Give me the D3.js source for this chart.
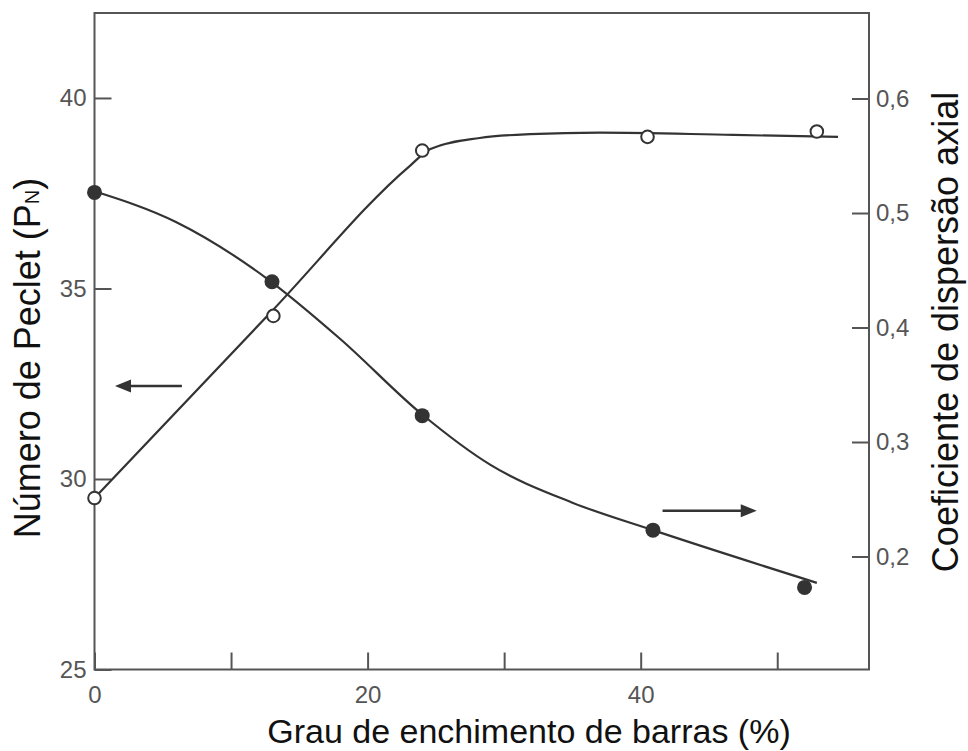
<!DOCTYPE html>
<html><head><meta charset="utf-8">
<script src="https://cdn.jsdelivr.net/npm/d3@7"></script>
<style>body{margin:0;background:#fff} svg{display:block}</style>
</head><body><svg id="c" width="968" height="751"></svg>
<script>
// ---- data ----
const xTicks = [0, 10, 20, 30, 40, 50];
const xTickLabels = ["0", "", "20", "", "40", ""];
const leftTicks = [25, 30, 35, 40];
const leftTickLabels = ["25", "30", "35", "40"];
const rightTicks = [0.2, 0.3, 0.4, 0.5, 0.6];
const rightTickLabels = ["0,2", "0,3", "0,4", "0,5", "0,6"];

// Número de Peclet (open circles, left axis)
const pecletX = [0, 13.1, 24.0, 40.5, 52.9];
const pecletY = [29.5, 34.28, 38.62, 38.98, 39.12];
// Coeficiente de dispersão axial (filled circles, right axis)
const dispX = [0, 13.0, 24.0, 40.9, 52.0];
const dispY = [0.518, 0.440, 0.323, 0.223, 0.173];

// fitted curves (traced)
const pecletFitX = [0, 13, 23.1, 24.6, 28.2, 31.9, 37.0, 46.8, 54.45];
const pecletFitY = [29.5, 34.41, 38.22, 38.66, 38.95, 39.05, 39.09, 39.03, 38.98];
const dispFitX = [0, 6, 12.6, 18, 24, 29, 35, 40.9, 52.9];
const dispFitY = [0.519, 0.492, 0.443, 0.390, 0.324, 0.280, 0.247, 0.223, 0.177];

// direction arrows
const arrowFromX = [6.4, 41.6];
const arrowToX = [1.5, 48.5];
const arrowY = [32.44, 0.240];
const arrowAxis = ["left", "right"];

const xTitle = "Grau de enchimento de barras (%)";
const leftTitle = "Número de Peclet (P";
const leftTitleSub = "N";
const rightTitle = "Coeficiente de dispersão axial";

// ---- drawing ----
const svg = d3.select("#c");
const font = "'Liberation Sans', Arial, Helvetica, sans-serif";
const L = 94.5, R = 869, T = 13, B = 669.5;
const x = d3.scaleLinear().domain([0, 56.72]).range([L, R]);
const yL = d3.scaleLinear().domain([25, 42.23]).range([B, T]);
const yR = d3.scaleLinear().domain([0.1013, 0.6747]).range([B, T]);
const axisCol = "#555", lineCol = "#333";

function styleAxis(g) {
  g.select(".domain").remove();
  g.selectAll(".tick line").attr("stroke", axisCol).attr("stroke-width", 2);
  g.selectAll(".tick text").attr("fill", "#555").style("font-family", font).style("font-size", "24px");
}

svg.append("g").attr("transform", `translate(0,${B})`)
  .call(d3.axisBottom(x).tickValues(xTicks).tickSize(-17).tickPadding(16)
    .tickFormat((d, i) => xTickLabels[i]))
  .call(styleAxis);

svg.append("g").attr("transform", `translate(${L},0)`)
  .call(d3.axisLeft(yL).tickValues(leftTicks).tickSize(-17).tickPadding(8)
    .tickFormat((d, i) => leftTickLabels[i]))
  .call(styleAxis);

svg.append("g").attr("transform", `translate(${R},0)`)
  .call(d3.axisRight(yR).tickValues(rightTicks).tickSize(-17).tickPadding(7)
    .tickFormat((d, i) => rightTickLabels[i]))
  .call(styleAxis);

svg.append("rect").attr("x", L).attr("y", T).attr("width", R - L).attr("height", B - T)
  .attr("fill", "none").attr("stroke", axisCol).attr("stroke-width", 2);

// curves
const lineL = d3.line().x(d => x(d[0])).y(d => yL(d[1])).curve(d3.curveMonotoneX);
const lineR = d3.line().x(d => x(d[0])).y(d => yR(d[1])).curve(d3.curveMonotoneX);
svg.append("path").attr("d", lineL(pecletFitX.map((v, i) => [v, pecletFitY[i]])))
  .attr("fill", "none").attr("stroke", lineCol).attr("stroke-width", 2.2);
svg.append("path").attr("d", lineR(dispFitX.map((v, i) => [v, dispFitY[i]])))
  .attr("fill", "none").attr("stroke", lineCol).attr("stroke-width", 2.2);

// points
svg.append("g").selectAll("circle").data(dispX).join("circle")
  .attr("cx", d => x(d)).attr("cy", (d, i) => yR(dispY[i])).attr("r", 7.5)
  .attr("fill", lineCol);
svg.append("g").selectAll("circle").data(pecletX).join("circle")
  .attr("cx", d => x(d)).attr("cy", (d, i) => yL(pecletY[i])).attr("r", 6.3)
  .attr("fill", "#fff").attr("stroke", lineCol).attr("stroke-width", 2);

// arrows
arrowFromX.forEach((fx, i) => {
  const ys = arrowAxis[i] === "left" ? yL : yR;
  const x1 = x(fx), x2 = x(arrowToX[i]), yy = ys(arrowY[i]);
  const dir = Math.sign(x2 - x1);
  const hl = 16, hw = 6.5;
  svg.append("line").attr("x1", x1).attr("x2", x2 - dir * hl * 0.8).attr("y1", yy).attr("y2", yy)
    .attr("stroke", lineCol).attr("stroke-width", 2.5);
  svg.append("path")
    .attr("d", `M${x2},${yy}L${x2 - dir * hl},${yy - hw}L${x2 - dir * hl},${yy + hw}Z`)
    .attr("fill", lineCol);
});

// titles
svg.append("text").attr("x", 529).attr("y", 743).attr("text-anchor", "middle")
  .style("font-family", font).style("font-size", "34px").attr("fill", "#111").text(xTitle);

const lt = svg.append("text").attr("transform", "translate(40,358) rotate(-90)")
  .attr("text-anchor", "middle").style("font-family", font).style("font-size", "36px").attr("fill", "#111");
lt.append("tspan").text(leftTitle);
lt.append("tspan").style("font-size", "20px").attr("dy", -1).text(leftTitleSub);
lt.append("tspan").attr("dy", 1).text(")");

svg.append("text").attr("transform", "translate(958,332) rotate(-90)")
  .attr("text-anchor", "middle").style("font-family", font).style("font-size", "36px").attr("fill", "#111")
  .text(rightTitle);
</script>
</body></html>
